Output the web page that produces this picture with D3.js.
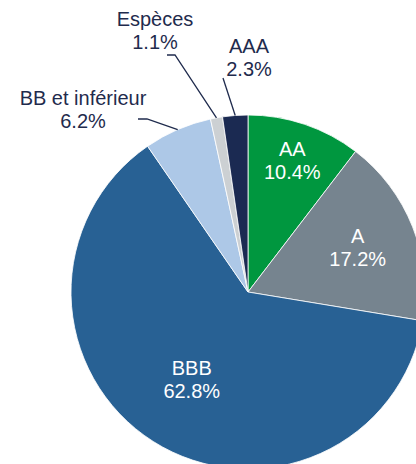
<!DOCTYPE html>
<html lang="fr">
<head>
    <meta charset="UTF-8">
    <title>Répartition par notation</title>
    <script src="https://d3js.org/d3.v7.min.js"></script>
    <style>
        body {
            margin: 0;
            padding: 0;
            background: #fff;
            font-family: "Liberation Sans", Arial, sans-serif;
        }
        svg { display: block; }
    </style>
</head>
<body>
    <svg id="chart" width="416" height="464"></svg>

    <script>
        // Data (clockwise from 12 o'clock)
        const categories = ["AA", "A", "BBB", "BB et inférieur", "Espèces", "AAA"];
        const shares = [10.4, 17.2, 62.8, 6.2, 1.1, 2.3];
        const shareLabels = ["10.4%", "17.2%", "62.8%", "6.2%", "1.1%", "2.3%"];

        const colors = ["#00973f", "#76848f", "#286194", "#adc8e7", "#ccd0d3", "#1b2a52"];

        // Label layout: inside labels use a radius along the slice mid angle,
        // outside labels sit at a fixed spot with a leader line back to the slice
        const labelLayout = [
            { inside: true, r: 138, color: "#fff" },
            { inside: true, r: 118, color: "#fff" },
            { inside: true, r: 105, color: "#fff" },
            { inside: false, x: 83, y: 105, leader: [[138, 119], [147, 119]] },
            { inside: false, x: 155, y: 26, leader: [[167, 55], [175, 55]] },
            { inside: false, x: 249, y: 53, leader: [[223, 78]] }
        ];

        const width = 416, height = 464;
        const cx = 248, cy = 292, radius = 177;
        const lineGap = 23;
        const textColor = "#1f2b4d";

        const svg = d3.select("#chart");
        const g = svg.append("g").attr("transform", `translate(${cx},${cy})`);

        const pie = d3.pie().sort(null).value(d => d.value);
        const arcs = pie(categories.map((c, i) => ({ name: c, value: shares[i], label: shareLabels[i] })));

        const arc = d3.arc().innerRadius(0).outerRadius(radius);

        g.selectAll("path.slice")
            .data(arcs)
            .join("path")
            .attr("class", "slice")
            .attr("d", arc)
            .attr("fill", (d, i) => colors[i])
            .attr("stroke", "#fff")
            .attr("stroke-width", 0.8);

        const mid = d => (d.startAngle + d.endAngle) / 2;
        const polar = (a, r) => [Math.sin(a) * r, -Math.cos(a) * r];

        arcs.forEach((d, i) => {
            const lay = labelLayout[i];
            let x, y, fill;
            if (lay.inside) {
                const p = polar(mid(d), lay.r);
                x = cx + p[0];
                y = cy + p[1] - lineGap / 2 + 6;
                fill = lay.color;
            } else {
                x = lay.x;
                y = lay.y;
                fill = textColor;
                // leader line from label to the slice edge
                const edge = polar(mid(d), radius);
                const pts = lay.leader.concat([[cx + edge[0], cy + edge[1]]]);
                svg.append("path")
                    .attr("d", d3.line()(pts))
                    .attr("fill", "none")
                    .attr("stroke", textColor)
                    .attr("stroke-width", 1.3);
            }

            const t = svg.append("text")
                .attr("text-anchor", "middle")
                .attr("font-size", 20)
                .attr("fill", fill);
            t.append("tspan").attr("x", x).attr("y", y).text(d.data.name);
            t.append("tspan").attr("x", x).attr("y", y + lineGap).text(d.data.label);
        });
    </script>
</body>
</html>
